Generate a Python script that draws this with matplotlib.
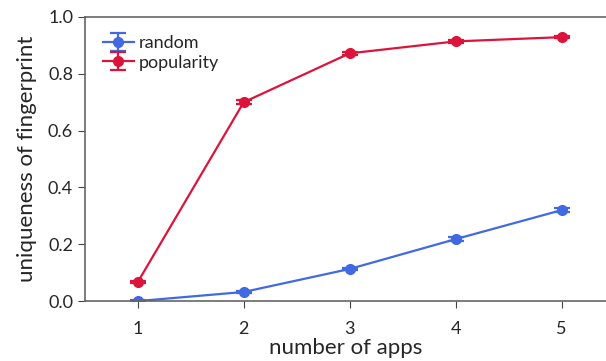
import matplotlib.pyplot as plt

plt.rcParams['font.family'] = ['Lato', 'DejaVu Sans']
plt.rcParams['text.color'] = '#262626'
plt.rcParams['axes.labelcolor'] = '#262626'

# Number of apps in the sample
num_apps = [1, 2, 3, 4, 5]

# Uniqueness of fingerprint for each app selection strategy
random_vals = [0.0, 0.032, 0.113, 0.218, 0.32]
random_err = [0.004, 0.004, 0.005, 0.006, 0.006]
popular_vals = [0.067, 0.70, 0.872, 0.914, 0.929]
popular_err = [0.005, 0.006, 0.005, 0.004, 0.004]

BLUE = "#4169e1"
RED = "#dc143c"

fig = plt.figure(figsize=(6.06, 3.61), dpi=100)
ax = fig.add_axes([0.14, 0.166, 0.86, 0.787])

ax.errorbar(num_apps, random_vals, yerr=random_err, color=BLUE, marker="o",
            markersize=7, linewidth=1.6, capsize=6, capthick=1.6, label="random")
ax.errorbar(num_apps, popular_vals, yerr=popular_err, color=RED, marker="o",
            markersize=7, linewidth=1.6, capsize=6, capthick=1.6, label="popularity")

ax.set_xlim(0.5, 5.42)
ax.set_ylim(0, 1.0)
ax.set_xticks(num_apps)
ax.set_yticks([0.0, 0.2, 0.4, 0.6, 0.8, 1.0])
ax.set_xlabel("number of apps", fontsize=16, labelpad=1)
ax.set_ylabel("uniqueness of fingerprint", fontsize=16, labelpad=8)
ax.tick_params(labelsize=13, color="#444444", labelcolor="#262626", length=5)
ax.tick_params(axis="x", pad=9)
for side in ["left", "bottom", "top"]:
    ax.spines[side].set_color("#666666")
    ax.spines[side].set_linewidth(1.2)
ax.spines["right"].set_visible(False)

ax.legend(loc="upper left", frameon=False, fontsize=13, handlelength=1.7,
          handletextpad=0.3, labelspacing=0.2, borderaxespad=0.6)

fig.savefig("out.png", dpi=100)
